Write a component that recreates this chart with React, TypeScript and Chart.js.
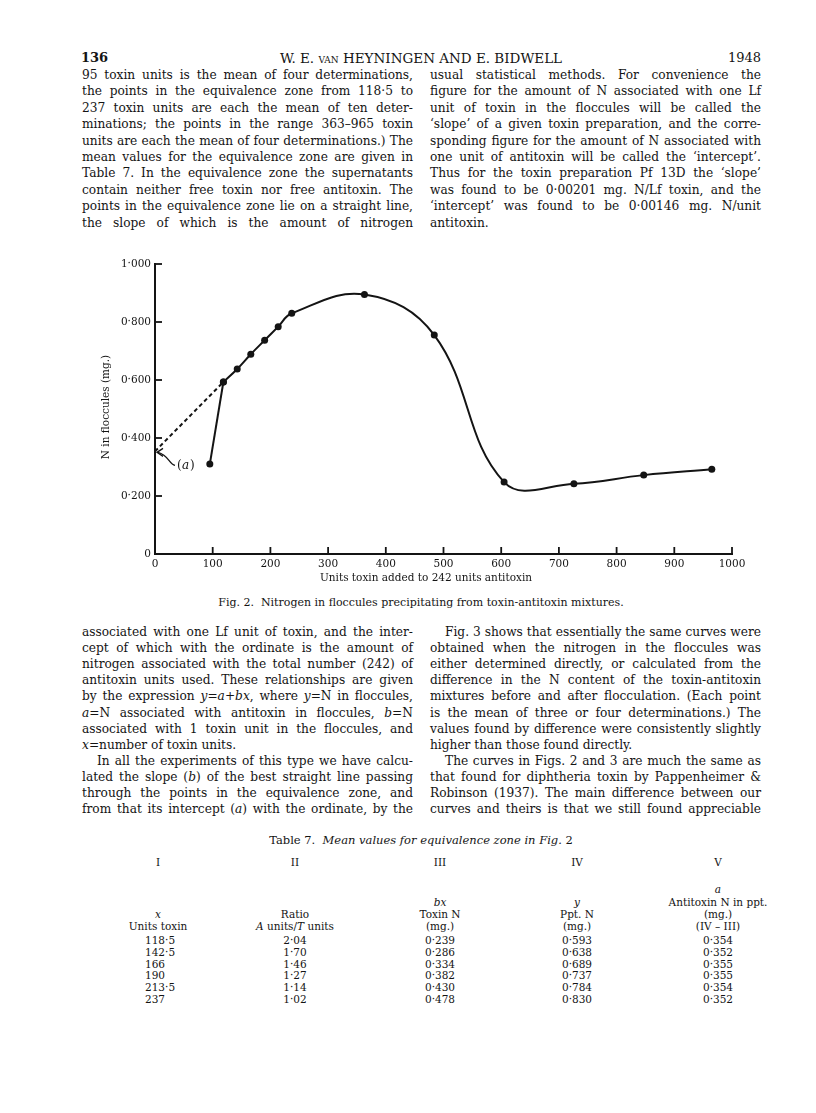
import React, { useEffect, useRef } from 'react';
import { Chart, registerables } from 'chart.js';

Chart.register(...registerables);

// ---- Data ----
const toxinUnits = [95, 118.5, 142.5, 166, 190, 213.5, 237, 363, 484, 605, 726, 847, 965];
const nitrogenMg = [0.31, 0.593, 0.638, 0.689, 0.737, 0.784, 0.83, 0.895, 0.755, 0.248, 0.242, 0.272, 0.292];
const interceptA = 0.354;
const xTickValues = [0, 100, 200, 300, 400, 500, 600, 700, 800, 900, 1000];
const yTickValues = [0, 0.2, 0.4, 0.6, 0.8, 1.0];
const yTickLabels = ['0', '0·200', '0·400', '0·600', '0·800', '1·000'];
const xAxisTitle = 'Units toxin added to 242 units antitoxin';
const yAxisTitle = 'N in floccules (mg.)';

// Table 7
const tabUnits = ['118·5', '142·5', '166', '190', '213·5', '237'];
const tabRatio = ['2·04', '1·70', '1·46', '1·27', '1·14', '1·02'];
const tabToxinN = ['0·239', '0·286', '0·334', '0·382', '0·430', '0·478'];
const tabPptN = ['0·593', '0·638', '0·689', '0·737', '0·784', '0·830'];
const tabAntitoxinN = ['0·354', '0·352', '0·355', '0·355', '0·354', '0·352'];

const INK = '#141414';
const SERIF = '"DejaVu Serif", "Liberation Serif", serif';

const overlayPlugin = {
  id: 'overlay',
  afterDraw(chart: any) {
    const { ctx, chartArea, scales } = chart;
    const xs = scales.x;
    const ys = scales.y;
    ctx.save();
    ctx.strokeStyle = INK;
    ctx.lineWidth = 1.8;
    // inward tick marks
    yTickValues.forEach((v) => {
      if (v === 0) return;
      const py = ys.getPixelForValue(v);
      ctx.beginPath();
      ctx.moveTo(chartArea.left, py);
      ctx.lineTo(chartArea.left + 7, py);
      ctx.stroke();
    });
    xTickValues.forEach((v) => {
      if (v === 0) return;
      const px = xs.getPixelForValue(v);
      ctx.beginPath();
      ctx.moveTo(px, chartArea.bottom);
      ctx.lineTo(px, chartArea.bottom - 7);
      ctx.stroke();
    });
    // axis titles
    ctx.fillStyle = INK;
    ctx.font = `10.5px ${SERIF}`;
    ctx.textAlign = 'center';
    ctx.textBaseline = 'middle';
    ctx.fillText(xAxisTitle, chartArea.left + 271, chartArea.bottom + 24);
    ctx.save();
    ctx.translate(chartArea.left - 49, (chartArea.top + chartArea.bottom) / 2 - 2);
    ctx.rotate(-Math.PI / 2);
    ctx.fillText(yAxisTitle, 0, 0);
    ctx.restore();
    // (a) annotation with curved arrow to the intercept
    const ax = xs.getPixelForValue(0);
    const ay = ys.getPixelForValue(interceptA);
    ctx.lineWidth = 1.3;
    ctx.beginPath();
    ctx.moveTo(ax + 20, ay + 14);
    ctx.bezierCurveTo(ax + 14, ay + 13, ax + 14, ay + 4, ax + 3, ay + 1);
    ctx.stroke();
    ctx.beginPath();
    ctx.moveTo(ax + 8, ay - 3);
    ctx.lineTo(ax + 2, ay + 1);
    ctx.lineTo(ax + 8, ay + 5);
    ctx.stroke();
    ctx.textAlign = 'left';
    ctx.font = `12px ${SERIF}`;
    ctx.fillText('(', ax + 22, ay + 15);
    ctx.font = `italic 12px ${SERIF}`;
    ctx.fillText('a', ax + 27, ay + 15);
    ctx.font = `12px ${SERIF}`;
    ctx.fillText(')', ax + 35, ay + 15);
    ctx.restore();
  },
};

function Fig2() {
  const ref = useRef<HTMLCanvasElement>(null);
  useEffect(() => {
    if (!ref.current) return;
    const pts = toxinUnits.map((x, i) => ({ x, y: nitrogenMg[i] }));
    const chart = new Chart(ref.current, {
      type: 'line',
      data: {
        datasets: [
          {
            data: [{ x: 0, y: interceptA }, pts[1]],
            borderColor: INK,
            borderWidth: 2,
            borderDash: [4, 3],
            pointRadius: 0,
            tension: 0,
          },
          {
            data: pts.slice(0, 2),
            borderColor: INK,
            backgroundColor: INK,
            borderWidth: 2,
            pointRadius: 3.5,
            pointBorderWidth: 0,
            tension: 0,
          },
          {
            data: pts.slice(1),
            borderColor: INK,
            backgroundColor: INK,
            borderWidth: 2,
            pointRadius: 3.5,
            pointBorderWidth: 0,
            tension: 0.4,
          },
        ],
      },
      options: {
        responsive: false,
        animation: false,
        devicePixelRatio: 1,
        layout: { padding: { top: 14, right: 58, left: 0, bottom: 0 } },
        plugins: { legend: { display: false }, tooltip: { enabled: false } },
        scales: {
          x: {
            type: 'linear',
            min: 0,
            max: 1000,
            afterBuildTicks: (s: any) => {
              s.ticks = xTickValues.map((v) => ({ value: v }));
            },
            afterFit: (s: any) => {
              s.height = 41;
            },
            grid: { display: false, drawTicks: false, tickLength: 0 },
            border: { display: true, color: INK, width: 2 },
            ticks: {
              autoSkip: false,
              maxRotation: 0,
              padding: 4,
              color: INK,
              font: { family: SERIF, size: 10.5 },
              callback: (v: any) => String(v),
            },
          },
          y: {
            type: 'linear',
            min: 0,
            max: 1,
            afterBuildTicks: (s: any) => {
              s.ticks = yTickValues.map((v) => ({ value: v }));
            },
            afterFit: (s: any) => {
              s.width = 65;
            },
            grid: { display: false, drawTicks: false, tickLength: 0 },
            border: { display: true, color: INK, width: 2 },
            ticks: {
              autoSkip: false,
              padding: 4,
              color: INK,
              font: { family: SERIF, size: 10.5 },
              callback: (v: any) => {
                const i = yTickValues.findIndex((t) => Math.abs(t - v) < 1e-6);
                return i >= 0 ? yTickLabels[i] : '';
              },
            },
          },
        },
      },
      plugins: [overlayPlugin],
    } as any);
    return () => chart.destroy();
  }, []);
  return (
    <canvas
      ref={ref}
      width={700}
      height={345}
      style={{ position: 'absolute', left: 90, top: 250, width: 700, height: 345 }}
    />
  );
}

type LineProps = { cy: number; left: number; width: number; last?: boolean; indent?: number; children: React.ReactNode };
function L({ cy, left, width, last, indent, children }: LineProps) {
  return (
    <div
      style={{
        position: 'absolute',
        top: cy - 8,
        left,
        width,
        height: 16,
        lineHeight: '16px',
        textAlign: last ? 'left' : 'justify',
        textAlignLast: last ? 'left' : 'justify',
        textIndent: indent || 0,
      } as any}
    >
      {children}
    </div>
  );
}

const LC = 82; // left column x
const RC = 430; // right column x
const CW = 331; // column width

const topLeft = [
  '95 toxin units is the mean of four determinations,',
  'the points in the equivalence zone from 118·5 to',
  '237 toxin units are each the mean of ten deter-',
  'minations; the points in the range 363–965 toxin',
  'units are each the mean of four determinations.) The',
  'mean values for the equivalence zone are given in',
  'Table 7.  In the equivalence zone the supernatants',
  'contain neither free toxin nor free antitoxin. The',
  'points in the equivalence zone lie on a straight line,',
  'the slope of which is the amount of nitrogen',
];
const topRight = [
  'usual statistical methods.  For convenience the',
  'figure for the amount of N associated with one Lf',
  'unit of toxin in the floccules will be called the',
  '‘slope’ of a given toxin preparation, and the corre-',
  'sponding figure for the amount of N associated with',
  'one unit of antitoxin will be called the ‘intercept’.',
  'Thus for the toxin preparation Pf 13D the ‘slope’',
  'was found to be 0·00201 mg. N/Lf toxin, and the',
  '‘intercept’ was found to be 0·00146 mg. N/unit',
  'antitoxin.',
];
const lowRight = [
  'Fig. 3 shows that essentially the same curves were',
  'obtained when the nitrogen in the floccules was',
  'either determined directly, or calculated from the',
  'difference in the N content of the toxin-antitoxin',
  'mixtures before and after flocculation.  (Each point',
  'is the mean of three or four determinations.) The',
  'values found by difference were consistently slightly',
  'higher than those found directly.',
  'The curves in Figs. 2 and 3 are much the same as',
  'that found for diphtheria toxin by Pappenheimer &',
  'Robinson (1937). The main difference between our',
  'curves and theirs is that we still found appreciable',
];

const TOP0 = 75;
const TOPSTEP = 16.4;
const LOW0 = 632;
const LOWSTEP = 16.1;

export default function App() {
  const i = (t: string) => <i>{t}</i>;
  const lowLeft: React.ReactNode[] = [
    'associated with one Lf unit of toxin, and the inter-',
    'cept of which with the ordinate is the amount of',
    'nitrogen associated with the total number (242) of',
    'antitoxin units used. These relationships are given',
    <>by the expression {i('y')}={i('a')}+{i('bx')}, where {i('y')}=N in floccules,</>,
    <>{i('a')}=N associated with antitoxin in floccules, {i('b')}=N</>,
    'associated with 1 toxin unit in the floccules, and',
    <>{i('x')}=number of toxin units.</>,
    'In all the experiments of this type we have calcu-',
    <>lated the slope ({i('b')}) of the best straight line passing</>,
    'through the points in the equivalence zone, and',
    <>from that its intercept ({i('a')}) with the ordinate, by the</>,
  ];
  const colX = [158, 295, 440, 577, 718];
  const tabCols = [tabUnits, tabRatio, tabToxinN, tabPptN, tabAntitoxinN];
  const cell = (x: number, cy: number, content: React.ReactNode, key: string, align: 'center' | 'left' = 'center') => (
    <div
      key={key}
      style={{
        position: 'absolute',
        top: cy - 7,
        left: align === 'center' ? x - 70 : x,
        width: 140,
        height: 14,
        lineHeight: '14px',
        textAlign: align,
        whiteSpace: 'nowrap',
      }}
    >
      {content}
    </div>
  );
  const rowY = (r: number) => 940 + r * 11.8;
  return (
    <div
      style={{
        position: 'absolute',
        left: 0,
        top: 0,
        width: 816,
        height: 1113,
        background: '#fff',
        overflow: 'hidden',
        fontFamily: SERIF,
        color: INK,
        fontSize: 12.2,
      }}
    >
      {/* running header */}
      <div style={{ position: 'absolute', left: 81, top: 49, fontSize: 13, fontWeight: 'bold', lineHeight: '18px' }}>136</div>
      <div style={{ position: 'absolute', left: 81, width: 680, top: 49, fontSize: 13.5, lineHeight: '18px', textAlign: 'center' }}>
        W. E. <span style={{ fontVariant: 'small-caps' }}>van</span> HEYNINGEN AND E. BIDWELL
      </div>
      <div style={{ position: 'absolute', left: 661, width: 100, top: 49, fontSize: 13, lineHeight: '18px', textAlign: 'right' }}>1948</div>

      {topLeft.map((t, k) => (
        <L key={'tl' + k} cy={TOP0 + k * TOPSTEP} left={LC} width={CW}>
          {t}
        </L>
      ))}
      {topRight.map((t, k) => (
        <L key={'tr' + k} cy={TOP0 + k * TOPSTEP} left={RC} width={CW} last={k === topRight.length - 1}>
          {t}
        </L>
      ))}

      <Fig2 />

      <div style={{ position: 'absolute', left: 81, width: 680, top: 595, fontSize: 11, lineHeight: '16px', textAlign: 'center' }}>
        Fig. 2.&nbsp; Nitrogen in floccules precipitating from toxin-antitoxin mixtures.
      </div>

      {lowLeft.map((t, k) => (
        <L key={'ll' + k} cy={LOW0 + k * LOWSTEP} left={LC} width={CW} last={k === 7} indent={k === 8 ? 15 : 0}>
          {t}
        </L>
      ))}
      {lowRight.map((t, k) => (
        <L key={'lr' + k} cy={LOW0 + k * LOWSTEP} left={RC} width={CW} last={k === 7} indent={k === 0 || k === 8 ? 15 : 0}>
          {t}
        </L>
      ))}

      {/* Table 7 */}
      <div style={{ position: 'absolute', left: 81, width: 680, top: 832, fontSize: 11.5, lineHeight: '16px', textAlign: 'center' }}>
        Table 7.&nbsp; <i>Mean values for equivalence zone in Fig.</i> 2
      </div>
      <div style={{ fontSize: 10.5 }}>
        {['I', 'II', 'III', 'IV', 'V'].map((r, k) => cell(colX[k], 862, r, 'rn' + k))}
        {cell(colX[4], 889, i('a'), 'h_a')}
        {cell(colX[2], 902, i('bx'), 'h_bx')}
        {cell(colX[3], 902, i('y'), 'h_y')}
        {cell(colX[4], 902, 'Antitoxin N in ppt.', 'h_ant')}
        {cell(colX[0], 914, i('x'), 'h_x')}
        {cell(colX[1], 914, 'Ratio', 'h_ratio')}
        {cell(colX[2], 914, 'Toxin N', 'h_tn')}
        {cell(colX[3], 914, 'Ppt. N', 'h_pn')}
        {cell(colX[4], 914, '(mg.)', 'h_mg5')}
        {cell(colX[0], 926, 'Units toxin', 'h_ut')}
        {cell(colX[1], 926, <>{i('A')} units/{i('T')} units</>, 'h_at')}
        {cell(colX[2], 926, '(mg.)', 'h_mg3')}
        {cell(colX[3], 926, '(mg.)', 'h_mg4')}
        {cell(colX[4], 926, '(IV – III)', 'h_iv')}
        {tabCols.map((col, c) =>
          col.map((v, r) =>
            c === 0 ? cell(145, rowY(r), v, `d${c}_${r}`, 'left') : cell(colX[c], rowY(r), v, `d${c}_${r}`)
          )
        )}
      </div>
    </div>
  );
}
